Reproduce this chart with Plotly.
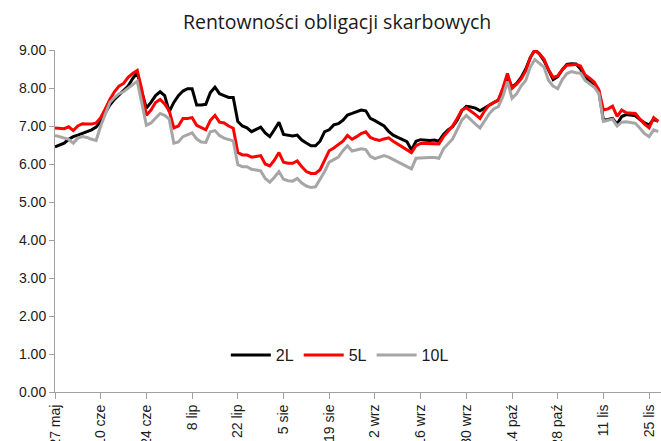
import plotly.graph_objects as go

tick_labels = ["27 maj", "10 cze", "24 cze", "8 lip", "22 lip", "5 sie", "19 sie",
               "2 wrz", "16 wrz", "30 wrz", "14 paź", "28 paź", "11 lis", "25 lis"]

y2 = [6.45, 6.50, 6.55, 6.65, 6.72, 6.76, 6.80, 6.85, 6.90, 6.97,
      7.12, 7.35, 7.55, 7.70, 7.82, 7.92, 8.05, 8.25, 8.40, 7.90,
      7.47, 7.62, 7.80, 7.90, 7.80, 7.38, 7.62, 7.80, 7.92, 7.98,
      7.98, 7.55, 7.55, 7.57, 7.88, 8.02, 7.85, 7.80, 7.75, 7.75,
      7.12, 7.00, 6.95, 6.85, 6.92, 6.97, 6.82, 6.72, 6.90, 7.10,
      6.78, 6.75, 6.74, 6.76, 6.63, 6.55, 6.48, 6.48, 6.60, 6.85,
      6.90, 7.03, 7.06, 7.15, 7.29, 7.33, 7.38, 7.42, 7.40, 7.20,
      7.14, 7.08, 7.00, 6.86, 6.76, 6.70, 6.64, 6.59, 6.37, 6.60,
      6.64, 6.62, 6.62, 6.63, 6.60, 6.78, 6.90, 6.98, 7.15, 7.40,
      7.52, 7.50, 7.47, 7.40, 7.48, 7.55, 7.62, 7.68, 7.95, 8.30,
      8.02, 8.12, 8.28, 8.50, 8.80, 9.00, 8.90, 8.72, 8.45, 8.22,
      8.30, 8.48, 8.62, 8.64, 8.63, 8.50, 8.28, 8.17, 8.06, 7.92,
      7.15, 7.17, 7.20, 7.05, 7.25, 7.30, 7.28, 7.27, 7.17, 7.08,
      7.03, 7.18, 7.12]

y5 = [6.95, 6.94, 6.93, 6.98, 6.88, 7.00, 7.06, 7.05, 7.05, 7.08,
      7.22, 7.45, 7.70, 7.90, 8.05, 8.12, 8.28, 8.38, 8.46, 7.95,
      7.28, 7.42, 7.62, 7.70, 7.58, 7.40, 6.95, 7.00, 7.20, 7.20,
      7.22, 7.02, 6.95, 6.90, 7.15, 7.28, 7.10, 7.08, 7.00, 6.94,
      6.30, 6.24, 6.24, 6.18, 6.20, 6.22, 6.00, 5.95, 6.10, 6.30,
      6.05, 6.02, 6.02, 6.08, 5.93, 5.80, 5.75, 5.75, 5.85, 6.10,
      6.35, 6.42, 6.50, 6.60, 6.75, 6.65, 6.72, 6.80, 6.85, 6.70,
      6.65, 6.62, 6.66, 6.69, 6.60, 6.52, 6.45, 6.37, 6.30, 6.48,
      6.54, 6.54, 6.54, 6.54, 6.53, 6.72, 6.85, 7.00, 7.20, 7.42,
      7.48, 7.40, 7.30, 7.20, 7.40, 7.55, 7.62, 7.68, 8.00, 8.38,
      7.99, 8.10, 8.24, 8.45, 8.80, 9.00, 8.90, 8.76, 8.48, 8.28,
      8.32, 8.48, 8.60, 8.62, 8.62, 8.58, 8.34, 8.26, 8.15, 7.95,
      7.42, 7.45, 7.52, 7.25, 7.42, 7.35, 7.33, 7.33, 7.18, 7.05,
      6.95, 7.22, 7.12]

y10 = [6.75, 6.72, 6.70, 6.65, 6.55, 6.68, 6.72, 6.70, 6.65, 6.62,
       7.00, 7.30, 7.62, 7.75, 7.85, 7.90, 8.00, 8.10, 8.18, 7.60,
       7.02, 7.08, 7.22, 7.33, 7.28, 7.18, 6.55, 6.58, 6.72, 6.76,
       6.82, 6.66, 6.58, 6.57, 6.85, 6.88, 6.75, 6.68, 6.65, 6.61,
       5.98, 5.93, 5.93, 5.86, 5.84, 5.82, 5.62, 5.52, 5.65, 5.80,
       5.60, 5.56, 5.55, 5.62, 5.50, 5.42, 5.38, 5.40, 5.60, 5.80,
       6.05, 6.12, 6.18, 6.35, 6.48, 6.34, 6.37, 6.40, 6.38, 6.20,
       6.14, 6.17, 6.22, 6.18, 6.12, 6.06, 6.00, 5.95, 5.87, 6.15,
       6.16, 6.16, 6.17, 6.17, 6.15, 6.40, 6.52, 6.66, 6.90, 7.15,
       7.28, 7.16, 7.05, 6.95, 7.15, 7.32, 7.45, 7.51, 7.78, 8.17,
       7.73, 7.85, 8.05, 8.20, 8.55, 8.75, 8.65, 8.55, 8.20, 8.05,
       7.98, 8.22, 8.38, 8.43, 8.40, 8.39, 8.20, 8.12, 8.02, 7.85,
       7.12, 7.15, 7.18, 7.00, 7.10, 7.11, 7.08, 7.07, 6.94, 6.80,
       6.72, 6.90, 6.85]

series_names = ["2L", "5L", "10L"]
series_colors = ["#000000", "#ff0000", "#a6a6a6"]

x = list(range(len(y2)))
tick_vals = [i * 10 for i in range(len(tick_labels))]

fig = go.Figure()
for name, ys, col in zip(series_names, [y2, y5, y10], series_colors):
    fig.add_trace(go.Scatter(x=x, y=ys, name=name, mode="lines",
                             line=dict(color=col, width=3)))

axis_font = dict(family="Liberation Sans, Arial, sans-serif", size=14, color="#1a1a1a")

fig.update_layout(
    width=661, height=441,
    margin=dict(l=55, r=0, t=50, b=49),
    paper_bgcolor="white", plot_bgcolor="white",
    title=dict(text="Rentowności obligacji skarbowych", x=0.51, xanchor="center",
               y=0.95, yanchor="middle",
               font=dict(family="Open Sans, sans-serif", size=19.5, color="#1a1a1a")),
    showlegend=True,
    legend=dict(orientation="h", x=0.47, xanchor="center", y=0.108, yanchor="middle",
                font=dict(family="Liberation Sans, Arial, sans-serif", size=16, color="#1a1a1a"),
                bgcolor="rgba(0,0,0,0)", itemwidth=40, tracegroupgap=0),
    xaxis=dict(range=[0, 132.6], tickmode="array", tickvals=tick_vals, ticktext=tick_labels,
               tickangle=-90, ticks="outside", ticklen=6, tickcolor="#a0a0a0",
               showline=True, linecolor="#a0a0a0", linewidth=1, showgrid=False,
               zeroline=False, automargin=False, tickfont=axis_font),
    yaxis=dict(range=[0, 9], tickmode="array", tickvals=list(range(0, 10)),
               ticktext=["%.2f" % v for v in range(0, 10)],
               ticks="outside", ticklen=5, tickcolor="#a0a0a0",
               showline=True, linecolor="#a0a0a0", linewidth=1, showgrid=False,
               zeroline=False, automargin=False, tickfont=axis_font),
)

fig.write_html("out.html", config={"displayModeBar": False},
               post_script="document.body.style.margin='0';document.body.style.overflow='hidden';")
